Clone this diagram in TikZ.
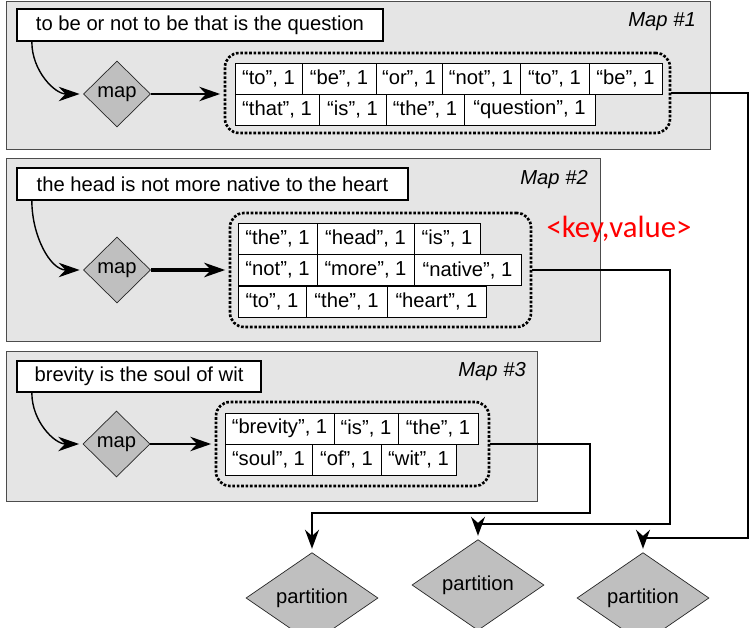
\documentclass[tikz,border=0pt]{standalone}
\usepackage{fontspec}
\setmainfont{Liberation Sans}
\newfontfamily\keyfont{Carlito}
\usetikzlibrary{shapes.geometric,arrows.meta}

\begin{document}
\begin{tikzpicture}[
	font=\fontsize{11.5}{13}\selectfont,
	panel/.style={draw=black!70, fill=black!10},
	sentence/.style={draw=black, line width=1.3pt, fill=white, minimum height=0.64cm, inner sep=0pt},
	maptag/.style={font=\fontsize{11.5}{13}\selectfont\itshape, anchor=east},
	mapdia/.style={diamond, draw=black!85, fill=black!25, minimum width=1.34cm, minimum height=1.32cm, inner sep=0pt},
	partdia/.style={diamond, draw=black!85, fill=black!25, minimum width=2.64cm, minimum height=1.14cm, inner sep=0pt},
	kvbox/.style={draw=black, densely dotted, line width=1.5pt, rounded corners=8pt},
	cell/.style={draw=black, line width=0.5pt, fill=white, minimum height=0.62cm, inner sep=0pt},
	arr/.style={-{Stealth[length=4.2mm,width=2.9mm]}, line width=0.8pt, shorten >=2pt},
	link/.style={-{Stealth[length=3.8mm,width=2.8mm]}, line width=0.9pt, shorten >=2pt}
	]
	\useasboundingbox (0,0) rectangle (15,-12.56);
	% panels
	\draw [panel] (0.12,-0.02) rectangle (14.2,-2.98);
	\draw [panel] (0.12,-3.16) rectangle (12.0,-6.82);
	\draw [panel] (0.12,-7.02) rectangle (10.74,-10.02);
	% map 1
	\node [sentence, minimum width=7.32cm] (t1) at (4.0,-0.5) {to be or not to be that is the question};
	\node [maptag] (tag1) at (14.04,-0.44) {Map \#1};
	\node [mapdia] (map1) at (2.34,-1.88) {map};
	\node [kvbox, minimum width=8.9cm, minimum height=1.6cm] (kv1) at (8.95,-1.86) {};
	\node [cell, minimum width=1.34cm] (a1) at (5.37,-1.57) {“to”, 1};
	\node [cell, minimum width=1.48cm] (a2) at (6.78,-1.57) {“be”, 1};
	\node [cell, minimum width=1.32cm] (a3) at (8.18,-1.57) {“or”, 1};
	\node [cell, minimum width=1.56cm] (a4) at (9.62,-1.57) {“not”, 1};
	\node [cell, minimum width=1.38cm] (a5) at (11.09,-1.57) {“to”, 1};
	\node [cell, minimum width=1.46cm] (a6) at (12.51,-1.57) {“be”, 1};
	\node [cell, minimum width=1.68cm] (a7) at (5.54,-2.19) {“that”, 1};
	\node [cell, minimum width=1.34cm] (a8) at (7.05,-2.19) {“is”, 1};
	\node [cell, minimum width=1.56cm] (a9) at (8.5,-2.19) {“the”, 1};
	\node [cell, minimum width=2.62cm] (a10) at (10.59,-2.19) {“question”, 1};
	\draw [arr] ([xshift=0.32cm]t1.south west) to[out=-90, in=180] (map1.west);
	\draw [arr] (map1.east) -- (map1.east -| kv1.west);
	% map 2
	\node [sentence, minimum width=7.82cm] (t2) at (4.25,-3.68) {the head is not more native to the heart};
	\node [maptag] (tag2) at (11.88,-3.6) {Map \#2};
	\node [mapdia] (map2) at (2.34,-5.4) {map};
	\node [kvbox, minimum width=6.02cm, minimum height=2.28cm] (kv2) at (7.61,-5.4) {};
	\node [cell, minimum width=1.58cm] (b1) at (5.55,-4.77) {“the”, 1};
	\node [cell, minimum width=1.94cm] (b2) at (7.31,-4.77) {“head”, 1};
	\node [cell, minimum width=1.32cm] (b3) at (8.94,-4.77) {“is”, 1};
	\node [cell, minimum width=1.58cm] (b4) at (5.55,-5.4) {“not”, 1};
	\node [cell, minimum width=1.94cm] (b5) at (7.31,-5.4) {“more”, 1};
	\node [cell, minimum width=2.14cm] (b6) at (9.35,-5.4) {“native”, 1};
	\node [cell, minimum width=1.36cm] (b7) at (5.44,-6.03) {“to”, 1};
	\node [cell, minimum width=1.62cm] (b8) at (6.93,-6.03) {“the”, 1};
	\node [cell, minimum width=1.98cm] (b9) at (8.73,-6.03) {“heart”, 1};
	\node [text=red, font=\keyfont\fontsize{17.5}{20}\selectfont] (kvlabel) at (12.38,-4.58) {<key,value>};
	\draw [arr] ([xshift=0.32cm]t2.south west) to[out=-90, in=180] (map2.west);
	\draw [arr, line width=1.8pt] (map2.east) -- (map2.east -| kv2.west);
	% map 3
	\node [sentence, minimum width=4.88cm, minimum height=0.62cm] (t3) at (2.78,-7.53) {brevity is the soul of wit};
	\node [maptag] (tag3) at (10.64,-7.44) {Map \#3};
	\node [mapdia] (map3) at (2.33,-8.88) {map};
	\node [kvbox, minimum width=5.46cm, minimum height=1.68cm] (kv3) at (7.05,-8.88) {};
	\node [cell, minimum width=2.18cm] (c1) at (5.59,-8.57) {“brevity”, 1};
	\node [cell, minimum width=1.28cm] (c2) at (7.32,-8.57) {“is”, 1};
	\node [cell, minimum width=1.6cm] (c3) at (8.76,-8.57) {“the”, 1};
	\node [cell, minimum width=1.74cm] (c4) at (5.37,-9.19) {“soul”, 1};
	\node [cell, minimum width=1.38cm] (c5) at (6.93,-9.19) {“of”, 1};
	\node [cell, minimum width=1.5cm] (c6) at (8.37,-9.19) {“wit”, 1};
	\draw [arr] ([xshift=0.32cm]t3.south west) to[out=-90, in=180] (map3.west);
	\draw [arr] (map3.east) -- (map3.east -| kv3.west);
	% partitions
	\node [partdia] (part1) at (6.24,-11.96) {partition};
	\node [partdia] (part2) at (9.56,-11.7) {partition};
	\node [partdia] (part3) at (12.86,-11.96) {partition};
	\coordinate (turn1) at (14.96,-10.76);
	\coordinate (turn2) at (13.4,-10.48);
	\coordinate (turn3) at (11.8,-10.26);
	\draw [link] (kv1.east) -| (turn1) -| (part3.north);
	\draw [link] (kv2.east) -| (turn2) -| (part2.north);
	\draw [link] (kv3.east) -| (turn3) -| (part1.north);
\end{tikzpicture}
\end{document}
